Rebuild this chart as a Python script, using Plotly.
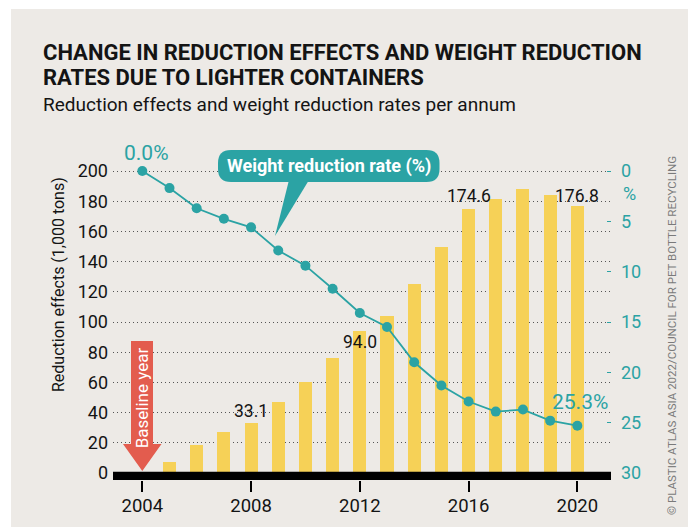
import plotly.graph_objects as go

# ---------------- data ----------------
years = list(range(2004, 2021))
reduction_effects = [0, 7.3, 18.5, 27.4, 33.1, 47.2, 60.3, 76.2, 94.0, 104.0,
                     125.2, 149.7, 174.6, 181.5, 188.0, 184.1, 176.8]
weight_reduction_rate = [0.0, 1.7, 3.7, 4.75, 5.6, 7.9, 9.4, 11.7, 14.1, 15.5,
                         19.0, 21.3, 22.9, 23.9, 23.7, 24.8, 25.3]
left_ticks = list(range(0, 201, 20))
right_ticks = list(range(0, 31, 5))
x_ticks = [2004, 2008, 2012, 2016, 2020]
bar_labels = {2008: "33.1", 2012: "94.0", 2016: "174.6", 2020: "176.8"}

# ---------------- style ----------------
OFF = 8                      # default page body margin
W, H = 696 - OFF, 527 - OFF
BG = "#EDEAE6"
YELLOW = "#F6D157"
TEAL = "#2BA3A4"
RED = "#E35C4E"
DARK = "#141414"
FONT = "Roboto, Liberation Sans, sans-serif"

# plot area in (reference) pixels
L, R, T, B = 113, 611, 140, 480
X2004, PX_YEAR = 142.3, 27.19
Y0, PX_UNIT = 473.0, 1.51


def dx(px):
    return 2004 + (px - X2004) / PX_YEAR


def dy(py):
    return (Y0 - py) / PX_UNIT


def pxp(px):
    return (px - L) / (R - L)


def pyp(py):
    return (B - py) / (B - T)


xr = [dx(L), dx(R)]
yr = [dy(B), dy(T)]
y2r = [(200 - yr[0]) * 0.15, (200 - yr[1]) * 0.15]

fig = go.Figure()
fig.add_trace(go.Bar(x=years, y=reduction_effects, width=0.48,
                     marker=dict(color=YELLOW, line=dict(width=0)),
                     yaxis="y", hoverinfo="skip"))
fig.add_trace(go.Scatter(x=years, y=weight_reduction_rate, yaxis="y2",
                         mode="lines+markers",
                         line=dict(color=TEAL, width=1.8),
                         marker=dict(color=TEAL, size=10), hoverinfo="skip"))

shapes = []
# background panel
shapes.append(dict(type="rect", xref="paper", yref="paper",
                   x0=pxp(11), x1=pxp(692), y0=pyp(540), y1=pyp(9),
                   fillcolor=BG, line=dict(width=0), layer="below"))
# black base bar
shapes.append(dict(type="rect", xref="x", yref="y",
                   x0=dx(L), x1=dx(R), y0=dy(480), y1=dy(471.7),
                   fillcolor="black", line=dict(width=0), layer="above"))


def poly(pts):
    return "M " + " L ".join(f"{dx(a)},{dy(b)}" for a, b in pts) + " Z"


# baseline arrow
shapes.append(dict(type="path", xref="x", yref="y",
                   path=poly([(131, 341), (153, 341), (153, 444), (161.5, 444),
                              (142.3, 471), (123, 444), (131, 444)]),
                   fillcolor=RED, line=dict(width=0), layer="above"))

# callout rounded box
x0, x1, y0, y1, r = 218, 439.5, 150, 182, 13
rx = r / PX_YEAR
ry = r / PX_UNIT
X0, X1, Yt, Yb = dx(x0), dx(x1), dy(y0), dy(y1)
path = (f"M {X0+rx},{Yt} L {X1-rx},{Yt} Q {X1},{Yt} {X1},{Yt-ry} "
        f"L {X1},{Yb+ry} Q {X1},{Yb} {X1-rx},{Yb} L {X0+rx},{Yb} "
        f"Q {X0},{Yb} {X0},{Yb+ry} L {X0},{Yt-ry} Q {X0},{Yt} {X0+rx},{Yt} Z")
shapes.append(dict(type="path", xref="x", yref="y", path=path,
                   fillcolor=TEAL, line=dict(width=0), layer="above"))
shapes.append(dict(type="path", xref="x", yref="y",
                   path=poly([(289, 180), (309, 180), (275, 236)]),
                   fillcolor=TEAL, line=dict(width=0), layer="above"))
fig.update_layout(shapes=shapes)

ann = []
# titles
ann.append(dict(xref="paper", yref="paper", x=pxp(41), y=pyp(52), xanchor="left", yanchor="middle",
                text="<b>CHANGE IN REDUCTION EFFECTS AND WEIGHT REDUCTION</b>",
                showarrow=False, font=dict(family=FONT, size=22, color=DARK)))
ann.append(dict(xref="paper", yref="paper", x=pxp(41), y=pyp(77), xanchor="left", yanchor="middle",
                text="<b>RATES DUE TO LIGHTER CONTAINERS</b>",
                showarrow=False, font=dict(family=FONT, size=22, color=DARK)))
ann.append(dict(xref="paper", yref="paper", x=pxp(41), y=pyp(105), xanchor="left", yanchor="middle",
                text="Reduction effects and weight reduction rates per annum",
                showarrow=False, font=dict(family=FONT, size=19, color=DARK)))
# left axis title
ann.append(dict(xref="paper", yref="paper", x=pxp(58), y=pyp(285), xanchor="center", yanchor="middle",
                text="Reduction effects (1,000 tons)", textangle=-90, showarrow=False,
                font=dict(family=FONT, size=16, color=DARK)))
# credit
ann.append(dict(xref="paper", yref="paper", x=pxp(672), y=pyp(336), xanchor="center", yanchor="middle",
                text="© PLASTIC ATLAS ASIA 2022/COUNCIL FOR PET BOTTLE RECYCLING", textangle=-90,
                showarrow=False, font=dict(family=FONT, size=11.5, color="#7A7A7A")))
# callout text
ann.append(dict(xref="x", yref="y", x=dx(329), y=dy(166), xanchor="center", yanchor="middle",
                text="<b>Weight reduction rate (%)</b>", showarrow=False,
                font=dict(family=FONT, size=18, color="white")))
# baseline text
ann.append(dict(xref="x", yref="y", x=dx(142.3), y=dy(398), xanchor="center", yanchor="middle",
                text="Baseline year", textangle=-90, showarrow=False,
                font=dict(family=FONT, size=17, color="white")))
# bar labels
label_pos = {2008: 411, 2012: 342, 2016: 196, 2020: 196}
for yr_, txt in bar_labels.items():
    ann.append(dict(xref="x", yref="y", x=yr_, y=dy(label_pos[yr_]), xanchor="center", yanchor="middle",
                    text=txt, showarrow=False, font=dict(family=FONT, size=17.5, color=DARK)))
# rate labels
ann.append(dict(xref="x", yref="y2", x=years[0], y=weight_reduction_rate[0], yshift=18,
                xanchor="center", yanchor="middle", xshift=4,
                text=f"{weight_reduction_rate[0]:.1f}%", showarrow=False,
                font=dict(family=FONT, size=21, color=TEAL)))
ann.append(dict(xref="x", yref="y2", x=years[-1], y=weight_reduction_rate[-1], yshift=24,
                xanchor="center", yanchor="middle", xshift=3,
                text=f"{weight_reduction_rate[-1]:.1f}%", showarrow=False,
                font=dict(family=FONT, size=21, color=TEAL)))
# % unit on right axis
ann.append(dict(xref="paper", yref="paper", x=pxp(629), y=pyp(193), xanchor="center", yanchor="middle",
                text="%", showarrow=False, font=dict(family=FONT, size=18, color=TEAL)))
fig.update_layout(annotations=ann)

fig.update_layout(
    width=W, height=H,
    margin=dict(l=L - OFF, r=(696 - R), t=T - OFF, b=(527 - B), pad=0, autoexpand=False),
    paper_bgcolor="white", plot_bgcolor="rgba(0,0,0,0)",
    showlegend=False, bargap=0,
    xaxis=dict(range=xr, tickvals=x_ticks, ticktext=[str(v) for v in x_ticks],
               showgrid=False, zeroline=False, showline=False, automargin=False,
               ticks="outside", ticklen=11, tickwidth=2, tickcolor="black",
               ticklabelstandoff=-2,
               tickfont=dict(family=FONT, size=18.5, color=DARK)),
    yaxis=dict(range=yr, tickvals=left_ticks, showgrid=True, gridcolor="#555555",
               griddash="1px,3px", gridwidth=1.2, zeroline=False, showline=False,
               automargin=False, ticks="", ticklabelstandoff=4,
               tickfont=dict(family=FONT, size=18, color=DARK)),
    yaxis2=dict(range=y2r, overlaying="y", side="right", tickvals=right_ticks,
                showgrid=False, zeroline=False, showline=False, automargin=False,
                ticks="inside", ticklen=4, tickwidth=1.2, tickcolor=TEAL,
                ticklabelstandoff=9,
                tickfont=dict(family=FONT, size=18, color=TEAL)),
)

fig.write_html("out.html")
